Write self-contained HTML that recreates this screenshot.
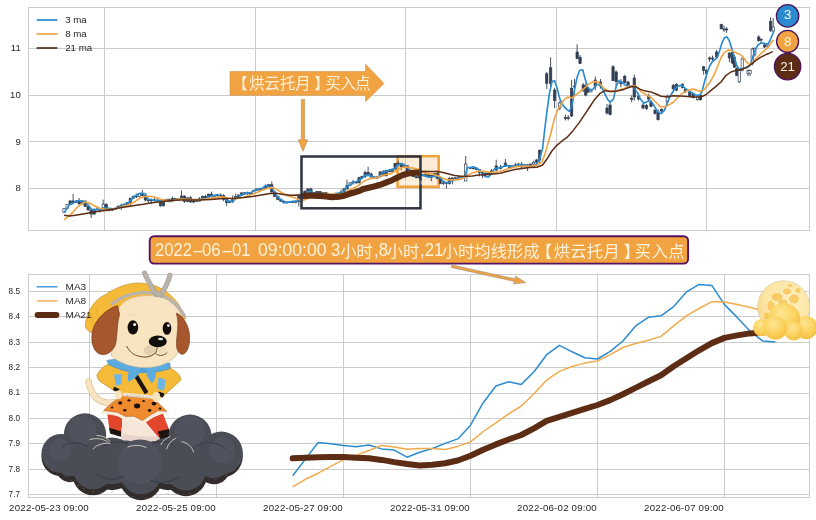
<!DOCTYPE html>
<html lang="zh">
<head>
<meta charset="utf-8">
<title>烘云托月 买入点</title>
<style>
html,body{margin:0;padding:0;background:#ffffff;}
body{width:816px;height:520px;overflow:hidden;font-family:"Liberation Sans", "Noto Sans CJK SC", sans-serif;}
#chart{position:absolute;left:0;top:0;width:816px;height:520px;will-change:transform;}
#note{position:absolute;left:0;top:0;width:816px;height:520px;color:#fdf1da;white-space:pre;}
#note span{position:absolute;display:block;line-height:1;white-space:pre;}
</style>
</head>
<body>
<div id="chart">
<svg width="816" height="520" viewBox="0 0 816 520" style="display:block;font-family:'Liberation Sans', 'Noto Sans CJK SC', sans-serif">
<rect width="816" height="520" fill="#ffffff"/>
<g id="top-axes">
<g stroke="#cccccc" stroke-width="1" fill="none" >
<line x1="28.5" x2="809.5" y1="188.5" y2="188.5"/>
<line x1="28.5" x2="809.5" y1="141.5" y2="141.5"/>
<line x1="28.5" x2="809.5" y1="95.5" y2="95.5"/>
<line x1="28.5" x2="809.5" y1="48.5" y2="48.5"/>
<line x1="104.5" x2="104.5" y1="7.5" y2="230.5"/>
<line x1="255.5" x2="255.5" y1="7.5" y2="230.5"/>
<line x1="405.5" x2="405.5" y1="7.5" y2="230.5"/>
<line x1="556.5" x2="556.5" y1="7.5" y2="230.5"/>
<line x1="706.5" x2="706.5" y1="7.5" y2="230.5"/>
<rect x="28.5" y="7.5" width="781.0" height="223.0"/>
</g>
<rect x="397.5" y="156.2" width="41.2" height="30.6" fill="#f6a94a" fill-opacity="0.22" stroke="#f0a340" stroke-width="2.6"/>
<g id="candles" stroke="#323e52">
<line x1="64.1" x2="64.1" y1="208.1" y2="212.8" stroke-width="0.9"/>
<rect x="62.9" y="208.7" width="2.3" height="3.9" stroke-width="0.7" fill="#ffffff"/>
<line x1="67.1" x2="67.1" y1="204" y2="208.7" stroke-width="0.9"/>
<rect x="66" y="204.3" width="2.3" height="4.3" stroke-width="0.7" fill="#ffffff"/>
<line x1="70.1" x2="70.1" y1="200.1" y2="204.9" stroke-width="0.9"/>
<rect x="69" y="201" width="2.3" height="3.3" stroke-width="0.7" fill="#323e52"/>
<line x1="73.1" x2="73.1" y1="194" y2="204.1" stroke-width="0.9"/>
<rect x="72" y="201" width="2.3" height="1.3" stroke-width="0.7" fill="#323e52"/>
<line x1="76.1" x2="76.1" y1="200.7" y2="203" stroke-width="0.9"/>
<rect x="75" y="201.1" width="2.3" height="1.1" stroke-width="0.7" fill="#323e52"/>
<line x1="79.1" x2="79.1" y1="198" y2="204.8" stroke-width="0.9"/>
<rect x="78" y="201.1" width="2.3" height="2.7" stroke-width="0.7" fill="#323e52"/>
<line x1="82.2" x2="82.2" y1="199.9" y2="204.4" stroke-width="0.9"/>
<rect x="81" y="201" width="2.3" height="2.8" stroke-width="0.7" fill="#323e52"/>
<line x1="85.2" x2="85.2" y1="200.7" y2="207.1" stroke-width="0.9"/>
<rect x="84" y="201" width="2.3" height="5.3" stroke-width="0.7" fill="#323e52"/>
<line x1="88.2" x2="88.2" y1="205" y2="210.6" stroke-width="0.9"/>
<rect x="87" y="206.3" width="2.3" height="3.6" stroke-width="0.7" fill="#323e52"/>
<line x1="91.2" x2="91.2" y1="209.8" y2="218" stroke-width="0.9"/>
<rect x="90" y="209.9" width="2.3" height="4.2" stroke-width="0.7" fill="#323e52"/>
<line x1="94.2" x2="94.2" y1="208.3" y2="214.7" stroke-width="0.9"/>
<rect x="93" y="209.7" width="2.3" height="4.3" stroke-width="0.7" fill="#323e52"/>
<line x1="97.2" x2="97.2" y1="206.9" y2="210.3" stroke-width="0.9"/>
<rect x="96.1" y="209" width="2.3" height="0.7" stroke-width="0.7" fill="#323e52"/>
<line x1="100.2" x2="100.2" y1="208.3" y2="212.5" stroke-width="0.9"/>
<rect x="99.1" y="209" width="2.3" height="1.4" stroke-width="0.7" fill="#323e52"/>
<line x1="103.2" x2="103.2" y1="199.6" y2="211.5" stroke-width="0.9"/>
<rect x="102.1" y="204.2" width="2.3" height="6.2" stroke-width="0.7" fill="#ffffff"/>
<line x1="106.2" x2="106.2" y1="203.5" y2="211.3" stroke-width="0.9"/>
<rect x="105.1" y="204.2" width="2.3" height="6.6" stroke-width="0.7" fill="#323e52"/>
<line x1="109.2" x2="109.2" y1="208.5" y2="211.3" stroke-width="0.9"/>
<rect x="108.1" y="209.5" width="2.3" height="1.2" stroke-width="0.7" fill="#323e52"/>
<line x1="112.3" x2="112.3" y1="208.8" y2="211.1" stroke-width="0.9"/>
<rect x="111.1" y="209.5" width="2.3" height="0.7" stroke-width="0.7" fill="#323e52"/>
<line x1="115.3" x2="115.3" y1="207.8" y2="210.2" stroke-width="0.9"/>
<rect x="114.1" y="208.2" width="2.3" height="1.3" stroke-width="0.7" fill="#323e52"/>
<line x1="118.3" x2="118.3" y1="205.9" y2="209.1" stroke-width="0.9"/>
<rect x="117.1" y="206" width="2.3" height="2.2" stroke-width="0.7" fill="#323e52"/>
<line x1="121.3" x2="121.3" y1="203.6" y2="209.9" stroke-width="0.9"/>
<rect x="120.1" y="205.2" width="2.3" height="0.8" stroke-width="0.7" fill="#323e52"/>
<line x1="124.3" x2="124.3" y1="203.8" y2="206.7" stroke-width="0.9"/>
<rect x="123.1" y="205.2" width="2.3" height="0.7" stroke-width="0.7" fill="#323e52"/>
<line x1="127.3" x2="127.3" y1="202" y2="205.3" stroke-width="0.9"/>
<rect x="126.2" y="202.4" width="2.3" height="2.8" stroke-width="0.7" fill="#323e52"/>
<line x1="130.3" x2="130.3" y1="198.2" y2="206.4" stroke-width="0.9"/>
<rect x="129.2" y="198.2" width="2.3" height="4.2" stroke-width="0.7" fill="#323e52"/>
<line x1="133.3" x2="133.3" y1="195.7" y2="198.8" stroke-width="0.9"/>
<rect x="132.2" y="196.2" width="2.3" height="2" stroke-width="0.7" fill="#323e52"/>
<line x1="136.3" x2="136.3" y1="193.4" y2="198.1" stroke-width="0.9"/>
<rect x="135.2" y="196.2" width="2.3" height="0.7" stroke-width="0.7" fill="#323e52"/>
<line x1="139.3" x2="139.3" y1="193.3" y2="197.2" stroke-width="0.9"/>
<rect x="138.2" y="193.8" width="2.3" height="2.7" stroke-width="0.7" fill="#ffffff"/>
<line x1="142.4" x2="142.4" y1="189.8" y2="196.3" stroke-width="0.9"/>
<rect x="141.2" y="193.8" width="2.3" height="1.7" stroke-width="0.7" fill="#323e52"/>
<line x1="145.4" x2="145.4" y1="194.4" y2="201.3" stroke-width="0.9"/>
<rect x="144.2" y="195.5" width="2.3" height="4.5" stroke-width="0.7" fill="#323e52"/>
<line x1="148.4" x2="148.4" y1="198.4" y2="202.7" stroke-width="0.9"/>
<rect x="147.2" y="200" width="2.3" height="0.8" stroke-width="0.7" fill="#323e52"/>
<line x1="151.4" x2="151.4" y1="198.7" y2="203.8" stroke-width="0.9"/>
<rect x="150.2" y="199.9" width="2.3" height="0.9" stroke-width="0.7" fill="#323e52"/>
<line x1="154.4" x2="154.4" y1="197" y2="201.6" stroke-width="0.9"/>
<rect x="153.2" y="199.9" width="2.3" height="0.7" stroke-width="0.7" fill="#323e52"/>
<line x1="157.4" x2="157.4" y1="200" y2="202.5" stroke-width="0.9"/>
<rect x="156.3" y="200.1" width="2.3" height="0.7" stroke-width="0.7" fill="#323e52"/>
<line x1="160.4" x2="160.4" y1="199.2" y2="206.8" stroke-width="0.9"/>
<rect x="159.3" y="200.5" width="2.3" height="5.3" stroke-width="0.7" fill="#323e52"/>
<line x1="163.4" x2="163.4" y1="199.7" y2="206.5" stroke-width="0.9"/>
<rect x="162.3" y="200" width="2.3" height="5.8" stroke-width="0.7" fill="#323e52"/>
<line x1="166.4" x2="166.4" y1="199" y2="200.1" stroke-width="0.9"/>
<rect x="165.3" y="199.2" width="2.3" height="0.8" stroke-width="0.7" fill="#323e52"/>
<line x1="169.4" x2="169.4" y1="199.2" y2="201.7" stroke-width="0.9"/>
<rect x="168.3" y="199.2" width="2.3" height="1.2" stroke-width="0.7" fill="#323e52"/>
<line x1="172.5" x2="172.5" y1="196.6" y2="201.5" stroke-width="0.9"/>
<rect x="171.3" y="198.3" width="2.3" height="2.1" stroke-width="0.7" fill="#323e52"/>
<line x1="175.5" x2="175.5" y1="198" y2="199.6" stroke-width="0.9"/>
<rect x="174.3" y="198.3" width="2.3" height="0.8" stroke-width="0.7" fill="#323e52"/>
<line x1="178.5" x2="178.5" y1="198.5" y2="201.2" stroke-width="0.9"/>
<rect x="177.3" y="199.1" width="2.3" height="0.7" stroke-width="0.7" fill="#323e52"/>
<line x1="181.5" x2="181.5" y1="190.6" y2="199.5" stroke-width="0.9"/>
<rect x="180.3" y="196" width="2.3" height="3.3" stroke-width="0.7" fill="#323e52"/>
<line x1="184.5" x2="184.5" y1="195.6" y2="202.8" stroke-width="0.9"/>
<rect x="183.3" y="196" width="2.3" height="5.4" stroke-width="0.7" fill="#323e52"/>
<line x1="187.5" x2="187.5" y1="197.6" y2="202.2" stroke-width="0.9"/>
<rect x="186.4" y="197.8" width="2.3" height="3.6" stroke-width="0.7" fill="#323e52"/>
<line x1="190.5" x2="190.5" y1="196" y2="202.7" stroke-width="0.9"/>
<rect x="189.4" y="197.8" width="2.3" height="4.2" stroke-width="0.7" fill="#323e52"/>
<line x1="193.5" x2="193.5" y1="198.7" y2="203.2" stroke-width="0.9"/>
<rect x="192.4" y="200.9" width="2.3" height="1.1" stroke-width="0.7" fill="#323e52"/>
<line x1="196.5" x2="196.5" y1="200.8" y2="201.6" stroke-width="0.9"/>
<rect x="195.4" y="200.9" width="2.3" height="0.7" stroke-width="0.7" fill="#323e52"/>
<line x1="199.5" x2="199.5" y1="197.1" y2="201.4" stroke-width="0.9"/>
<rect x="198.4" y="198.8" width="2.3" height="2.3" stroke-width="0.7" fill="#323e52"/>
<line x1="202.6" x2="202.6" y1="195.7" y2="199.9" stroke-width="0.9"/>
<rect x="201.4" y="196.3" width="2.3" height="2.5" stroke-width="0.7" fill="#323e52"/>
<line x1="205.6" x2="205.6" y1="194.9" y2="198.1" stroke-width="0.9"/>
<rect x="204.4" y="196.3" width="2.3" height="1.7" stroke-width="0.7" fill="#323e52"/>
<line x1="208.6" x2="208.6" y1="193.7" y2="199.4" stroke-width="0.9"/>
<rect x="207.4" y="194.2" width="2.3" height="3.8" stroke-width="0.7" fill="#323e52"/>
<line x1="211.6" x2="211.6" y1="191.6" y2="195.8" stroke-width="0.9"/>
<rect x="210.4" y="194.2" width="2.3" height="1.2" stroke-width="0.7" fill="#323e52"/>
<line x1="214.6" x2="214.6" y1="195.2" y2="198.6" stroke-width="0.9"/>
<rect x="213.4" y="195.5" width="2.3" height="0.7" stroke-width="0.7" fill="#323e52"/>
<line x1="217.6" x2="217.6" y1="194.2" y2="196.6" stroke-width="0.9"/>
<rect x="216.5" y="195.1" width="2.3" height="0.7" stroke-width="0.7" fill="#ffffff"/>
<line x1="220.6" x2="220.6" y1="193.4" y2="196.3" stroke-width="0.9"/>
<rect x="219.5" y="195.1" width="2.3" height="0.7" stroke-width="0.7" fill="#323e52"/>
<line x1="223.6" x2="223.6" y1="194.2" y2="201.2" stroke-width="0.9"/>
<rect x="222.5" y="195.7" width="2.3" height="3.8" stroke-width="0.7" fill="#323e52"/>
<line x1="226.6" x2="226.6" y1="199.1" y2="205.8" stroke-width="0.9"/>
<rect x="225.5" y="199.4" width="2.3" height="3" stroke-width="0.7" fill="#323e52"/>
<line x1="229.6" x2="229.6" y1="200.6" y2="203.1" stroke-width="0.9"/>
<rect x="228.5" y="201.8" width="2.3" height="0.7" stroke-width="0.7" fill="#323e52"/>
<line x1="232.7" x2="232.7" y1="195.4" y2="202.9" stroke-width="0.9"/>
<rect x="231.5" y="198.6" width="2.3" height="3.2" stroke-width="0.7" fill="#323e52"/>
<line x1="235.7" x2="235.7" y1="193.7" y2="199.9" stroke-width="0.9"/>
<rect x="234.5" y="196.6" width="2.3" height="2" stroke-width="0.7" fill="#ffffff"/>
<line x1="238.7" x2="238.7" y1="194.7" y2="196.8" stroke-width="0.9"/>
<rect x="237.5" y="195" width="2.3" height="1.6" stroke-width="0.7" fill="#323e52"/>
<line x1="241.7" x2="241.7" y1="192.5" y2="195.8" stroke-width="0.9"/>
<rect x="240.5" y="192.9" width="2.3" height="2.2" stroke-width="0.7" fill="#323e52"/>
<line x1="244.7" x2="244.7" y1="192.4" y2="195.1" stroke-width="0.9"/>
<rect x="243.5" y="192.8" width="2.3" height="0.7" stroke-width="0.7" fill="#323e52"/>
<line x1="247.7" x2="247.7" y1="191.5" y2="195" stroke-width="0.9"/>
<rect x="246.6" y="192.8" width="2.3" height="0.7" stroke-width="0.7" fill="#323e52"/>
<line x1="250.7" x2="250.7" y1="192.6" y2="195.2" stroke-width="0.9"/>
<rect x="249.6" y="193.5" width="2.3" height="0.7" stroke-width="0.7" fill="#323e52"/>
<line x1="253.7" x2="253.7" y1="190.3" y2="194.2" stroke-width="0.9"/>
<rect x="252.6" y="190.3" width="2.3" height="3.3" stroke-width="0.7" fill="#ffffff"/>
<line x1="256.7" x2="256.7" y1="188.7" y2="190.6" stroke-width="0.9"/>
<rect x="255.6" y="189" width="2.3" height="1.3" stroke-width="0.7" fill="#323e52"/>
<line x1="259.8" x2="259.8" y1="188.3" y2="192.2" stroke-width="0.9"/>
<rect x="258.6" y="189" width="2.3" height="0.7" stroke-width="0.7" fill="#323e52"/>
<line x1="262.8" x2="262.8" y1="188" y2="190.2" stroke-width="0.9"/>
<rect x="261.6" y="188.1" width="2.3" height="1.4" stroke-width="0.7" fill="#ffffff"/>
<line x1="265.8" x2="265.8" y1="186" y2="189.2" stroke-width="0.9"/>
<rect x="264.6" y="186.5" width="2.3" height="1.6" stroke-width="0.7" fill="#323e52"/>
<line x1="268.8" x2="268.8" y1="184.7" y2="187.5" stroke-width="0.9"/>
<rect x="267.6" y="184.7" width="2.3" height="1.8" stroke-width="0.7" fill="#323e52"/>
<line x1="271.8" x2="271.8" y1="181.5" y2="192.6" stroke-width="0.9"/>
<rect x="270.6" y="184.7" width="2.3" height="7.3" stroke-width="0.7" fill="#323e52"/>
<line x1="274.8" x2="274.8" y1="191.2" y2="196.6" stroke-width="0.9"/>
<rect x="273.6" y="192" width="2.3" height="4.4" stroke-width="0.7" fill="#323e52"/>
<line x1="277.8" x2="277.8" y1="196" y2="200.3" stroke-width="0.9"/>
<rect x="276.7" y="196.4" width="2.3" height="3.1" stroke-width="0.7" fill="#323e52"/>
<line x1="280.8" x2="280.8" y1="199.3" y2="202" stroke-width="0.9"/>
<rect x="279.7" y="199.5" width="2.3" height="1.7" stroke-width="0.7" fill="#323e52"/>
<line x1="283.8" x2="283.8" y1="200.4" y2="203" stroke-width="0.9"/>
<rect x="282.7" y="201.2" width="2.3" height="1.6" stroke-width="0.7" fill="#323e52"/>
<line x1="286.8" x2="286.8" y1="201.9" y2="203.7" stroke-width="0.9"/>
<rect x="285.7" y="201.9" width="2.3" height="0.9" stroke-width="0.7" fill="#323e52"/>
<line x1="289.8" x2="289.8" y1="201" y2="202.6" stroke-width="0.9"/>
<rect x="288.7" y="201.9" width="2.3" height="0.7" stroke-width="0.7" fill="#323e52"/>
<line x1="292.9" x2="292.9" y1="201.3" y2="202.8" stroke-width="0.9"/>
<rect x="291.7" y="201.4" width="2.3" height="1.2" stroke-width="0.7" fill="#323e52"/>
<line x1="295.9" x2="295.9" y1="200.4" y2="203.5" stroke-width="0.9"/>
<rect x="294.7" y="201.4" width="2.3" height="0.7" stroke-width="0.7" fill="#323e52"/>
<line x1="298.9" x2="298.9" y1="193.8" y2="206.5" stroke-width="0.9"/>
<rect x="297.7" y="196.6" width="2.3" height="5.2" stroke-width="0.7" fill="#323e52"/>
<line x1="301.9" x2="301.9" y1="195.4" y2="200.3" stroke-width="0.9"/>
<rect x="300.7" y="196.6" width="2.3" height="2.4" stroke-width="0.7" fill="#323e52"/>
<line x1="304.9" x2="304.9" y1="190.8" y2="200" stroke-width="0.9"/>
<rect x="303.8" y="191" width="2.3" height="8" stroke-width="0.7" fill="#323e52"/>
<line x1="307.9" x2="307.9" y1="188.3" y2="194.8" stroke-width="0.9"/>
<rect x="306.8" y="189" width="2.3" height="2" stroke-width="0.7" fill="#323e52"/>
<line x1="310.9" x2="310.9" y1="187.7" y2="196.7" stroke-width="0.9"/>
<rect x="309.8" y="189" width="2.3" height="6.3" stroke-width="0.7" fill="#323e52"/>
<line x1="313.9" x2="313.9" y1="192.8" y2="195.3" stroke-width="0.9"/>
<rect x="312.8" y="192.8" width="2.3" height="2.4" stroke-width="0.7" fill="#323e52"/>
<line x1="316.9" x2="316.9" y1="191.1" y2="194.5" stroke-width="0.9"/>
<rect x="315.8" y="191.5" width="2.3" height="1.4" stroke-width="0.7" fill="#323e52"/>
<line x1="319.9" x2="319.9" y1="191.4" y2="195.6" stroke-width="0.9"/>
<rect x="318.8" y="191.5" width="2.3" height="3.4" stroke-width="0.7" fill="#323e52"/>
<line x1="323" x2="323" y1="192.7" y2="196.5" stroke-width="0.9"/>
<rect x="321.8" y="192.7" width="2.3" height="2.2" stroke-width="0.7" fill="#323e52"/>
<line x1="326" x2="326" y1="192.2" y2="196" stroke-width="0.9"/>
<rect x="324.8" y="192.7" width="2.3" height="3" stroke-width="0.7" fill="#323e52"/>
<line x1="329" x2="329" y1="193.5" y2="196.1" stroke-width="0.9"/>
<rect x="327.8" y="194.8" width="2.3" height="0.9" stroke-width="0.7" fill="#323e52"/>
<line x1="332" x2="332" y1="193.8" y2="195.7" stroke-width="0.9"/>
<rect x="330.8" y="194.2" width="2.3" height="0.7" stroke-width="0.7" fill="#323e52"/>
<line x1="335" x2="335" y1="192.6" y2="199.5" stroke-width="0.9"/>
<rect x="333.9" y="194.2" width="2.3" height="1.4" stroke-width="0.7" fill="#323e52"/>
<line x1="338" x2="338" y1="194.4" y2="200" stroke-width="0.9"/>
<rect x="336.9" y="195.6" width="2.3" height="1.8" stroke-width="0.7" fill="#323e52"/>
<line x1="341" x2="341" y1="189.6" y2="197.8" stroke-width="0.9"/>
<rect x="339.9" y="192.1" width="2.3" height="5.3" stroke-width="0.7" fill="#323e52"/>
<line x1="344" x2="344" y1="187.7" y2="193.6" stroke-width="0.9"/>
<rect x="342.9" y="189" width="2.3" height="3.1" stroke-width="0.7" fill="#323e52"/>
<line x1="347" x2="347" y1="179.7" y2="189.3" stroke-width="0.9"/>
<rect x="345.9" y="185.5" width="2.3" height="3.5" stroke-width="0.7" fill="#323e52"/>
<line x1="350" x2="350" y1="182.3" y2="186.3" stroke-width="0.9"/>
<rect x="348.9" y="182.9" width="2.3" height="2.6" stroke-width="0.7" fill="#ffffff"/>
<line x1="353.1" x2="353.1" y1="179.8" y2="184.7" stroke-width="0.9"/>
<rect x="351.9" y="181.9" width="2.3" height="1" stroke-width="0.7" fill="#323e52"/>
<line x1="356.1" x2="356.1" y1="181.1" y2="183.7" stroke-width="0.9"/>
<rect x="354.9" y="181.9" width="2.3" height="1" stroke-width="0.7" fill="#323e52"/>
<line x1="359.1" x2="359.1" y1="176.8" y2="182.9" stroke-width="0.9"/>
<rect x="357.9" y="177.7" width="2.3" height="5.2" stroke-width="0.7" fill="#323e52"/>
<line x1="362.1" x2="362.1" y1="175.6" y2="178" stroke-width="0.9"/>
<rect x="360.9" y="176.4" width="2.3" height="1.3" stroke-width="0.7" fill="#323e52"/>
<line x1="365.1" x2="365.1" y1="170.5" y2="177.9" stroke-width="0.9"/>
<rect x="364" y="172.5" width="2.3" height="3.9" stroke-width="0.7" fill="#323e52"/>
<line x1="368.1" x2="368.1" y1="166.6" y2="174.6" stroke-width="0.9"/>
<rect x="367" y="172.5" width="2.3" height="1.6" stroke-width="0.7" fill="#323e52"/>
<line x1="371.1" x2="371.1" y1="172.5" y2="177.1" stroke-width="0.9"/>
<rect x="370" y="174.1" width="2.3" height="3" stroke-width="0.7" fill="#323e52"/>
<line x1="374.1" x2="374.1" y1="176" y2="178.2" stroke-width="0.9"/>
<rect x="373" y="177" width="2.3" height="1" stroke-width="0.7" fill="#323e52"/>
<line x1="377.1" x2="377.1" y1="176.7" y2="178.5" stroke-width="0.9"/>
<rect x="376" y="176.8" width="2.3" height="1.2" stroke-width="0.7" fill="#323e52"/>
<line x1="380.1" x2="380.1" y1="171.5" y2="177.4" stroke-width="0.9"/>
<rect x="379" y="171.9" width="2.3" height="4.9" stroke-width="0.7" fill="#323e52"/>
<line x1="383.2" x2="383.2" y1="169.9" y2="176.3" stroke-width="0.9"/>
<rect x="382" y="171.9" width="2.3" height="3.8" stroke-width="0.7" fill="#323e52"/>
<line x1="386.2" x2="386.2" y1="170.1" y2="176.2" stroke-width="0.9"/>
<rect x="385" y="170.4" width="2.3" height="5.4" stroke-width="0.7" fill="#323e52"/>
<line x1="389.2" x2="389.2" y1="169.2" y2="172.6" stroke-width="0.9"/>
<rect x="388" y="170.4" width="2.3" height="1.2" stroke-width="0.7" fill="#323e52"/>
<line x1="392.2" x2="392.2" y1="168.9" y2="171.9" stroke-width="0.9"/>
<rect x="391" y="169.1" width="2.3" height="2.5" stroke-width="0.7" fill="#323e52"/>
<line x1="395.2" x2="395.2" y1="163.3" y2="169.6" stroke-width="0.9"/>
<rect x="394" y="163.3" width="2.3" height="5.8" stroke-width="0.7" fill="#323e52"/>
<line x1="398.2" x2="398.2" y1="160.6" y2="164.8" stroke-width="0.9"/>
<rect x="397.1" y="163.2" width="2.3" height="0.7" stroke-width="0.7" fill="#ffffff"/>
<line x1="401.2" x2="401.2" y1="162.9" y2="170.5" stroke-width="0.9"/>
<rect x="400.1" y="163.2" width="2.3" height="3.5" stroke-width="0.7" fill="#323e52"/>
<line x1="404.2" x2="404.2" y1="163.9" y2="167.6" stroke-width="0.9"/>
<rect x="403.1" y="165.7" width="2.3" height="1" stroke-width="0.7" fill="#323e52"/>
<line x1="407.2" x2="407.2" y1="165.3" y2="172.3" stroke-width="0.9"/>
<rect x="406.1" y="165.7" width="2.3" height="4.9" stroke-width="0.7" fill="#323e52"/>
<line x1="410.2" x2="410.2" y1="169.5" y2="174" stroke-width="0.9"/>
<rect x="409.1" y="170.6" width="2.3" height="1.9" stroke-width="0.7" fill="#323e52"/>
<line x1="413.3" x2="413.3" y1="172" y2="177" stroke-width="0.9"/>
<rect x="412.1" y="172.5" width="2.3" height="4.2" stroke-width="0.7" fill="#323e52"/>
<line x1="416.3" x2="416.3" y1="176.1" y2="178.3" stroke-width="0.9"/>
<rect x="415.1" y="176.7" width="2.3" height="1" stroke-width="0.7" fill="#323e52"/>
<line x1="419.3" x2="419.3" y1="174.8" y2="179.1" stroke-width="0.9"/>
<rect x="418.1" y="175.1" width="2.3" height="2.6" stroke-width="0.7" fill="#323e52"/>
<line x1="422.3" x2="422.3" y1="174.1" y2="175.8" stroke-width="0.9"/>
<rect x="421.1" y="175.1" width="2.3" height="0.7" stroke-width="0.7" fill="#323e52"/>
<line x1="425.3" x2="425.3" y1="173" y2="176.4" stroke-width="0.9"/>
<rect x="424.1" y="174.8" width="2.3" height="0.8" stroke-width="0.7" fill="#323e52"/>
<line x1="428.3" x2="428.3" y1="174.7" y2="177.4" stroke-width="0.9"/>
<rect x="427.2" y="174.8" width="2.3" height="2.3" stroke-width="0.7" fill="#323e52"/>
<line x1="431.3" x2="431.3" y1="174.9" y2="181.1" stroke-width="0.9"/>
<rect x="430.2" y="175.3" width="2.3" height="1.9" stroke-width="0.7" fill="#323e52"/>
<line x1="434.3" x2="434.3" y1="173.1" y2="175.9" stroke-width="0.9"/>
<rect x="433.2" y="173.4" width="2.3" height="1.9" stroke-width="0.7" fill="#323e52"/>
<line x1="437.3" x2="437.3" y1="170.6" y2="179.2" stroke-width="0.9"/>
<rect x="436.2" y="173.4" width="2.3" height="5.1" stroke-width="0.7" fill="#323e52"/>
<line x1="440.4" x2="440.4" y1="178.4" y2="184.2" stroke-width="0.9"/>
<rect x="439.2" y="178.5" width="2.3" height="4.8" stroke-width="0.7" fill="#323e52"/>
<line x1="443.4" x2="443.4" y1="182.1" y2="185" stroke-width="0.9"/>
<rect x="442.2" y="182.8" width="2.3" height="0.7" stroke-width="0.7" fill="#323e52"/>
<line x1="446.4" x2="446.4" y1="182.2" y2="188.6" stroke-width="0.9"/>
<rect x="445.2" y="182.8" width="2.3" height="0.7" stroke-width="0.7" fill="#323e52"/>
<line x1="449.4" x2="449.4" y1="177" y2="184.6" stroke-width="0.9"/>
<rect x="448.2" y="178.5" width="2.3" height="4.9" stroke-width="0.7" fill="#323e52"/>
<line x1="452.4" x2="452.4" y1="177" y2="184.4" stroke-width="0.9"/>
<rect x="451.2" y="178" width="2.3" height="0.7" stroke-width="0.7" fill="#323e52"/>
<line x1="455.4" x2="455.4" y1="177.1" y2="178.6" stroke-width="0.9"/>
<rect x="454.2" y="177.8" width="2.3" height="0.7" stroke-width="0.7" fill="#323e52"/>
<line x1="458.4" x2="458.4" y1="175.7" y2="180.5" stroke-width="0.9"/>
<rect x="457.3" y="177.8" width="2.3" height="0.7" stroke-width="0.7" fill="#323e52"/>
<line x1="461.4" x2="461.4" y1="176.7" y2="179.7" stroke-width="0.9"/>
<rect x="460.3" y="177.8" width="2.3" height="0.7" stroke-width="0.7" fill="#323e52"/>
<line x1="470.4" x2="470.4" y1="167.5" y2="168.6" stroke-width="0.9"/>
<rect x="469.3" y="167.8" width="2.3" height="0.7" stroke-width="0.7" fill="#323e52"/>
<line x1="473.5" x2="473.5" y1="167.8" y2="169.2" stroke-width="0.9"/>
<rect x="472.3" y="168.1" width="2.3" height="0.7" stroke-width="0.7" fill="#323e52"/>
<line x1="476.5" x2="476.5" y1="167.3" y2="170.2" stroke-width="0.9"/>
<rect x="475.3" y="168.1" width="2.3" height="1.5" stroke-width="0.7" fill="#323e52"/>
<line x1="479.5" x2="479.5" y1="169" y2="176.4" stroke-width="0.9"/>
<rect x="478.3" y="169.6" width="2.3" height="3.1" stroke-width="0.7" fill="#323e52"/>
<line x1="482.5" x2="482.5" y1="171.4" y2="178.2" stroke-width="0.9"/>
<rect x="481.3" y="172.7" width="2.3" height="2.2" stroke-width="0.7" fill="#323e52"/>
<line x1="485.5" x2="485.5" y1="172.7" y2="175.9" stroke-width="0.9"/>
<rect x="484.4" y="173.1" width="2.3" height="1.8" stroke-width="0.7" fill="#323e52"/>
<line x1="488.5" x2="488.5" y1="172.5" y2="174.1" stroke-width="0.9"/>
<rect x="487.4" y="173.1" width="2.3" height="0.7" stroke-width="0.7" fill="#323e52"/>
<line x1="491.5" x2="491.5" y1="169.1" y2="174.5" stroke-width="0.9"/>
<rect x="490.4" y="170.8" width="2.3" height="2.9" stroke-width="0.7" fill="#323e52"/>
<line x1="500.5" x2="500.5" y1="164.9" y2="169.4" stroke-width="0.9"/>
<rect x="499.4" y="167.1" width="2.3" height="1.5" stroke-width="0.7" fill="#323e52"/>
<line x1="509.6" x2="509.6" y1="165.5" y2="168.1" stroke-width="0.9"/>
<rect x="508.4" y="165.6" width="2.3" height="2.1" stroke-width="0.7" fill="#323e52"/>
<line x1="512.6" x2="512.6" y1="165.3" y2="168" stroke-width="0.9"/>
<rect x="511.4" y="166" width="2.3" height="1.7" stroke-width="0.7" fill="#323e52"/>
<line x1="515.6" x2="515.6" y1="162.8" y2="166.3" stroke-width="0.9"/>
<rect x="514.4" y="164.9" width="2.3" height="1.1" stroke-width="0.7" fill="#323e52"/>
<line x1="518.6" x2="518.6" y1="162.8" y2="166.2" stroke-width="0.9"/>
<rect x="517.5" y="164.1" width="2.3" height="0.9" stroke-width="0.7" fill="#323e52"/>
<line x1="521.6" x2="521.6" y1="162.2" y2="167.8" stroke-width="0.9"/>
<rect x="520.5" y="164.1" width="2.3" height="2.9" stroke-width="0.7" fill="#323e52"/>
<line x1="524.6" x2="524.6" y1="164.1" y2="166.9" stroke-width="0.9"/>
<rect x="523.5" y="164.9" width="2.3" height="2" stroke-width="0.7" fill="#323e52"/>
<line x1="527.6" x2="527.6" y1="164.1" y2="171" stroke-width="0.9"/>
<rect x="526.5" y="164.9" width="2.3" height="2.6" stroke-width="0.7" fill="#323e52"/>
<line x1="530.6" x2="530.6" y1="163.6" y2="168" stroke-width="0.9"/>
<rect x="529.5" y="164.1" width="2.3" height="3.4" stroke-width="0.7" fill="#323e52"/>
<line x1="533.7" x2="533.7" y1="160.7" y2="164.9" stroke-width="0.9"/>
<rect x="532.5" y="162.2" width="2.3" height="1.8" stroke-width="0.7" fill="#ffffff"/>
<line x1="536.7" x2="536.7" y1="158.8" y2="163.1" stroke-width="0.9"/>
<rect x="535.5" y="160" width="2.3" height="2.2" stroke-width="0.7" fill="#323e52"/>
<line x1="539.7" x2="539.7" y1="149.5" y2="164" stroke-width="0.9"/>
<rect x="538.5" y="150.3" width="2.3" height="9.7" stroke-width="0.7" fill="#323e52"/>
<line x1="587.8" x2="587.8" y1="87.6" y2="93.2" stroke-width="0.9"/>
<rect x="586.7" y="88.1" width="2.3" height="3.9" stroke-width="0.7" fill="#323e52"/>
<line x1="590.9" x2="590.9" y1="88.5" y2="92" stroke-width="0.9"/>
<rect x="589.7" y="90.4" width="2.3" height="1.6" stroke-width="0.7" fill="#ffffff"/>
<line x1="620.9" x2="620.9" y1="79" y2="87.2" stroke-width="0.9"/>
<rect x="619.8" y="81.7" width="2.3" height="2.1" stroke-width="0.7" fill="#323e52"/>
<line x1="651" x2="651" y1="101.4" y2="106.7" stroke-width="0.9"/>
<rect x="649.9" y="102.6" width="2.3" height="3.8" stroke-width="0.7" fill="#323e52"/>
<line x1="693.2" x2="693.2" y1="92.9" y2="98.6" stroke-width="0.9"/>
<rect x="692" y="93.5" width="2.3" height="4.1" stroke-width="0.7" fill="#323e52"/>
<line x1="465.7" x2="465.7" y1="156" y2="181" stroke-width="0.9"/>
<rect x="464.6" y="164" width="2.3" height="17" stroke-width="0.7" fill="#ffffff"/>
<line x1="496.2" x2="496.2" y1="159.7" y2="171.5" stroke-width="0.9"/>
<rect x="495.1" y="166" width="2.3" height="4" stroke-width="0.7" fill="#323e52"/>
<line x1="505.4" x2="505.4" y1="159" y2="167" stroke-width="0.9"/>
<rect x="504.2" y="163" width="2.3" height="3.5" stroke-width="0.7" fill="#323e52"/>
<line x1="546.8" x2="546.8" y1="72" y2="89" stroke-width="0.9"/>
<rect x="545.6" y="73.8" width="2.3" height="9.5" stroke-width="0.7" fill="#323e52"/>
<line x1="550.6" x2="550.6" y1="57.3" y2="85.9" stroke-width="0.9"/>
<rect x="549.5" y="67.7" width="2.3" height="15.6" stroke-width="0.7" fill="#323e52"/>
<line x1="554.6" x2="554.6" y1="88" y2="108" stroke-width="0.9"/>
<rect x="553.5" y="90" width="2.3" height="10.6" stroke-width="0.7" fill="#323e52"/>
<line x1="559.8" x2="559.8" y1="101" y2="110" stroke-width="0.9"/>
<rect x="558.6" y="103" width="2.3" height="5" stroke-width="0.7" fill="#ffffff"/>
<line x1="565.4" x2="565.4" y1="114.5" y2="120.5" stroke-width="0.9"/>
<rect x="564.2" y="117.6" width="2.3" height="0.8" stroke-width="0.7" fill="#323e52"/>
<line x1="568.2" x2="568.2" y1="115" y2="120.5" stroke-width="0.9"/>
<rect x="567.1" y="117.6" width="2.3" height="0.8" stroke-width="0.7" fill="#323e52"/>
<line x1="571.6" x2="571.6" y1="80" y2="117" stroke-width="0.9"/>
<rect x="570.5" y="88.5" width="2.3" height="27.5" stroke-width="0.7" fill="#323e52"/>
<line x1="574.5" x2="574.5" y1="79" y2="97" stroke-width="0.9"/>
<rect x="573.4" y="86" width="2.3" height="1" stroke-width="0.7" fill="#323e52"/>
<line x1="577.1" x2="577.1" y1="44.3" y2="59" stroke-width="0.9"/>
<rect x="576" y="52" width="2.3" height="6.7" stroke-width="0.7" fill="#323e52"/>
<line x1="580" x2="580" y1="55" y2="64" stroke-width="0.9"/>
<rect x="578.9" y="57.3" width="2.3" height="6.1" stroke-width="0.7" fill="#323e52"/>
<line x1="583.2" x2="583.2" y1="83" y2="92" stroke-width="0.9"/>
<rect x="582.1" y="85" width="2.3" height="5.2" stroke-width="0.7" fill="#323e52"/>
<line x1="585.8" x2="585.8" y1="83.3" y2="96.3" stroke-width="0.9"/>
<rect x="584.6" y="86" width="2.3" height="9" stroke-width="0.7" fill="#323e52"/>
<line x1="595.3" x2="595.3" y1="76.4" y2="90.2" stroke-width="0.9"/>
<rect x="594.1" y="80" width="2.3" height="6" stroke-width="0.7" fill="#323e52"/>
<line x1="600.5" x2="600.5" y1="79" y2="88.5" stroke-width="0.9"/>
<rect x="599.4" y="82" width="2.3" height="4" stroke-width="0.7" fill="#323e52"/>
<line x1="607" x2="607" y1="104" y2="114.5" stroke-width="0.9"/>
<rect x="605.9" y="108" width="2.3" height="5" stroke-width="0.7" fill="#323e52"/>
<line x1="610" x2="610" y1="103" y2="115.3" stroke-width="0.9"/>
<rect x="608.9" y="105" width="2.3" height="9.5" stroke-width="0.7" fill="#323e52"/>
<line x1="613" x2="613" y1="65" y2="81" stroke-width="0.9"/>
<rect x="611.9" y="66.8" width="2.3" height="13.9" stroke-width="0.7" fill="#323e52"/>
<line x1="616.1" x2="616.1" y1="70.3" y2="87.6" stroke-width="0.9"/>
<rect x="615" y="72" width="2.3" height="9.6" stroke-width="0.7" fill="#323e52"/>
<line x1="624.8" x2="624.8" y1="74.6" y2="83.3" stroke-width="0.9"/>
<rect x="623.6" y="76.4" width="2.3" height="6" stroke-width="0.7" fill="#323e52"/>
<line x1="628" x2="628" y1="80.7" y2="86.8" stroke-width="0.9"/>
<rect x="626.9" y="82" width="2.3" height="3" stroke-width="0.7" fill="#323e52"/>
<line x1="634.3" x2="634.3" y1="74.6" y2="100.6" stroke-width="0.9"/>
<rect x="633.1" y="78" width="2.3" height="19" stroke-width="0.7" fill="#323e52"/>
<line x1="631.7" x2="631.7" y1="95.4" y2="102.3" stroke-width="0.9"/>
<rect x="630.6" y="98.5" width="2.3" height="0.8" stroke-width="0.7" fill="#323e52"/>
<line x1="638.6" x2="638.6" y1="93.7" y2="100.6" stroke-width="0.9"/>
<rect x="637.5" y="96" width="2.3" height="3" stroke-width="0.7" fill="#323e52"/>
<line x1="643" x2="643" y1="103.2" y2="109.3" stroke-width="0.9"/>
<rect x="641.9" y="105" width="2.3" height="3" stroke-width="0.7" fill="#323e52"/>
<line x1="646.5" x2="646.5" y1="104" y2="110.1" stroke-width="0.9"/>
<rect x="645.4" y="105.5" width="2.3" height="3" stroke-width="0.7" fill="#323e52"/>
<line x1="648.7" x2="648.7" y1="93.7" y2="100.6" stroke-width="0.9"/>
<rect x="647.6" y="96" width="2.3" height="3" stroke-width="0.7" fill="#323e52"/>
<line x1="655" x2="655" y1="109.3" y2="114.5" stroke-width="0.9"/>
<rect x="653.9" y="110.1" width="2.3" height="3.5" stroke-width="0.7" fill="#323e52"/>
<line x1="658" x2="658" y1="109.3" y2="120.5" stroke-width="0.9"/>
<rect x="656.9" y="111.9" width="2.3" height="7.8" stroke-width="0.7" fill="#323e52"/>
<line x1="661.5" x2="661.5" y1="108.4" y2="111.9" stroke-width="0.9"/>
<rect x="660.4" y="109.5" width="2.3" height="1.5" stroke-width="0.7" fill="#323e52"/>
<line x1="667.2" x2="667.2" y1="94.5" y2="104.9" stroke-width="0.9"/>
<rect x="666.1" y="97" width="2.3" height="5" stroke-width="0.7" fill="#ffffff"/>
<line x1="673.3" x2="673.3" y1="84" y2="90" stroke-width="0.9"/>
<rect x="672.1" y="85.4" width="2.3" height="3.4" stroke-width="0.7" fill="#323e52"/>
<line x1="676.4" x2="676.4" y1="83.3" y2="91.1" stroke-width="0.9"/>
<rect x="675.2" y="84.2" width="2.3" height="6" stroke-width="0.7" fill="#323e52"/>
<line x1="682.5" x2="682.5" y1="83.5" y2="88.5" stroke-width="0.9"/>
<rect x="681.4" y="84.2" width="2.3" height="3.4" stroke-width="0.7" fill="#323e52"/>
<line x1="685.4" x2="685.4" y1="88.5" y2="92.8" stroke-width="0.9"/>
<rect x="684.2" y="89.4" width="2.3" height="2.5" stroke-width="0.7" fill="#323e52"/>
<line x1="689.7" x2="689.7" y1="91.1" y2="97.1" stroke-width="0.9"/>
<rect x="688.6" y="92.5" width="2.3" height="3.5" stroke-width="0.7" fill="#323e52"/>
<line x1="697.5" x2="697.5" y1="94.5" y2="100.6" stroke-width="0.9"/>
<rect x="696.4" y="95.4" width="2.3" height="4.3" stroke-width="0.7" fill="#ffffff"/>
<line x1="700.5" x2="700.5" y1="94.5" y2="100.6" stroke-width="0.9"/>
<rect x="699.4" y="95.4" width="2.3" height="4.3" stroke-width="0.7" fill="#323e52"/>
<line x1="703.6" x2="703.6" y1="66" y2="74.6" stroke-width="0.9"/>
<rect x="702.5" y="66.8" width="2.3" height="3.5" stroke-width="0.7" fill="#323e52"/>
<line x1="706.5" x2="706.5" y1="69.5" y2="74.6" stroke-width="0.9"/>
<rect x="705.4" y="70.3" width="2.3" height="3.5" stroke-width="0.7" fill="#323e52"/>
<line x1="709.5" x2="709.5" y1="56.5" y2="61.7" stroke-width="0.9"/>
<rect x="708.4" y="58" width="2.3" height="1" stroke-width="0.7" fill="#323e52"/>
<line x1="712.5" x2="712.5" y1="55.6" y2="61.7" stroke-width="0.9"/>
<rect x="711.4" y="58" width="2.3" height="1" stroke-width="0.7" fill="#323e52"/>
<line x1="716.6" x2="716.6" y1="50" y2="58.2" stroke-width="0.9"/>
<rect x="715.5" y="52" width="2.3" height="5" stroke-width="0.7" fill="#323e52"/>
<line x1="721.2" x2="721.2" y1="23.8" y2="29.5" stroke-width="0.9"/>
<rect x="720.1" y="24.6" width="2.3" height="4.1" stroke-width="0.7" fill="#323e52"/>
<line x1="724" x2="724" y1="25.4" y2="32" stroke-width="0.9"/>
<rect x="722.9" y="29" width="2.3" height="0.9" stroke-width="0.7" fill="#323e52"/>
<line x1="726.6" x2="726.6" y1="27" y2="32.8" stroke-width="0.9"/>
<rect x="725.5" y="29" width="2.3" height="0.9" stroke-width="0.7" fill="#323e52"/>
<line x1="729.4" x2="729.4" y1="52.4" y2="62.2" stroke-width="0.9"/>
<rect x="728.2" y="53" width="2.3" height="5" stroke-width="0.7" fill="#323e52"/>
<line x1="732.4" x2="732.4" y1="50" y2="64" stroke-width="0.9"/>
<rect x="731.2" y="52.4" width="2.3" height="10.6" stroke-width="0.7" fill="#323e52"/>
<line x1="734.4" x2="734.4" y1="55" y2="68" stroke-width="0.9"/>
<rect x="733.2" y="57" width="2.3" height="10.1" stroke-width="0.7" fill="#323e52"/>
<line x1="736.8" x2="736.8" y1="67.1" y2="76.1" stroke-width="0.9"/>
<rect x="735.6" y="68.7" width="2.3" height="6.6" stroke-width="0.7" fill="#323e52"/>
<line x1="739.2" x2="739.2" y1="69.5" y2="83.1" stroke-width="0.9"/>
<rect x="738.1" y="70.4" width="2.3" height="11.4" stroke-width="0.7" fill="#ffffff"/>
<line x1="742.2" x2="742.2" y1="57.3" y2="71.2" stroke-width="0.9"/>
<rect x="741.1" y="58.9" width="2.3" height="11.5" stroke-width="0.7" fill="#ffffff"/>
<line x1="748" x2="748" y1="69.5" y2="76.1" stroke-width="0.9"/>
<rect x="746.9" y="70.4" width="2.3" height="3.2" stroke-width="0.7" fill="#ffffff"/>
<line x1="750" x2="750" y1="69.5" y2="76.1" stroke-width="0.9"/>
<rect x="748.9" y="70.4" width="2.3" height="3.2" stroke-width="0.7" fill="#ffffff"/>
<line x1="752.3" x2="752.3" y1="47.5" y2="65.5" stroke-width="0.9"/>
<rect x="751.1" y="49.1" width="2.3" height="14.7" stroke-width="0.7" fill="#ffffff"/>
<line x1="754.8" x2="754.8" y1="47.5" y2="56.5" stroke-width="0.9"/>
<rect x="753.6" y="48.3" width="2.3" height="6.5" stroke-width="0.7" fill="#ffffff"/>
<line x1="758.8" x2="758.8" y1="35.2" y2="41.8" stroke-width="0.9"/>
<rect x="757.6" y="37" width="2.3" height="3.5" stroke-width="0.7" fill="#323e52"/>
<line x1="761" x2="761" y1="38.5" y2="42.6" stroke-width="0.9"/>
<rect x="759.9" y="39.2" width="2.3" height="0.9" stroke-width="0.7" fill="#323e52"/>
<line x1="764.5" x2="764.5" y1="44.2" y2="47.8" stroke-width="0.9"/>
<rect x="763.4" y="45" width="2.3" height="2" stroke-width="0.7" fill="#323e52"/>
<line x1="767" x2="767" y1="43" y2="46.7" stroke-width="0.9"/>
<rect x="765.9" y="43.9" width="2.3" height="2.3" stroke-width="0.7" fill="#ffffff"/>
<line x1="770.6" x2="770.6" y1="17.3" y2="32" stroke-width="0.9"/>
<rect x="769.5" y="21.3" width="2.3" height="9" stroke-width="0.7" fill="#323e52"/>
<line x1="773.2" x2="773.2" y1="18" y2="32" stroke-width="0.9"/>
<rect x="772.1" y="27" width="2.3" height="4" stroke-width="0.7" fill="#ffffff"/>
</g>
<polyline points="64.1,212.6 67.1,208.3 70.1,204.1 73.1,203.4 76.1,201.1 79.2,200.6 82.2,201.4 85.2,201.7 88.2,205 91.2,208.8 94.2,210.2 97.2,209.4 100.2,210 103.2,207.9 106.2,208 109.3,208.4 112.3,208.7 115.3,208.7 118.3,207.2 121.3,205.7 124.3,204.2 127.3,203.1 130.3,201.1 133.3,197.5 136.3,195.2 139.4,193.4 142.4,193.4 145.4,193.8 148.4,199.5 151.4,199.5 154.4,200.6 157.4,200.1 160.4,200.7 163.4,201.8 166.4,200 169.4,201.6 172.5,200.9 175.5,199.4 178.5,199.3 181.5,199 184.5,199.9 187.5,200 190.5,199.8 193.5,199.8 196.5,199.5 199.5,199.5 202.6,198.5 205.6,198.8 208.6,196.5 211.6,196.1 214.6,195.4 217.6,194.5 220.6,196.7 223.6,197 226.6,200.6 229.6,201.1 232.7,201.5 235.7,198.1 238.7,197 241.7,194.7 244.7,193.9 247.7,192.9 250.7,192.7 253.7,190.6 256.7,189.8 259.7,188.5 262.8,188.2 265.8,185.2 268.8,187.1 271.8,187 274.8,193.2 277.8,197.1 280.8,199.3 283.8,202.6 286.8,202.4 289.8,201.9 292.9,201.3 295.9,201 298.9,200.7 301.9,198.2 304.9,196.8 307.9,191.9 310.9,191.2 313.9,193.4 316.9,193.6 319.9,193.6 323,193.9 326,194.2 329,195.6 332,195.4 335,193.9 338,193.1 341,193.6 344,190.8 347,186.4 350,184.9 353.1,182.5 356.1,181.7 359.1,180.3 362.1,178.4 365.1,175.4 368.1,175.1 371.1,176 374.1,177.2 377.1,177.6 380.1,175.2 383.2,172.5 386.2,171.4 389.2,169.9 392.2,169.7 395.2,168 398.2,164.9 401.2,163.8 404.2,164.5 407.2,167.2 410.2,170.5 413.3,173.3 416.3,174.4 419.3,174.3 422.3,174.7 425.3,176.2 428.3,176.8 431.3,177 434.3,176.1 437.3,176.4 440.3,177.6 443.4,181.3 446.4,182.7 449.4,182.1 452.4,180.7 455.4,179.4 458.4,178.7 461.4,177.5 464.4,177.9 467.4,167.6 470.4,167.2 473.5,166.7 476.5,168.4 479.5,169.7 482.5,174.4 485.5,176.6 488.5,176.9 491.5,173.6 494.5,168.9 497.5,168.1 500.5,167.6 503.6,166.4 506.6,165.4 509.6,166.1 512.6,166.6 515.6,165.5 518.6,164.8 521.6,164.7 524.6,165.2 527.6,165.6 530.6,166.2 533.7,166.8 536.7,163.8 539.7,158.8 542.6,148.5 544.4,132 546.8,112.7 549.4,93.7 552,81.6 554.6,80.7 557.2,88.5 559.8,98.9 563.3,105.8 566.8,109.3 569.4,111.3 571.9,105.8 574.5,90.2 577.1,77.2 579.7,70.3 582.7,69.8 584.9,78.1 587.5,86.8 590.1,90.2 592.7,89.4 596.2,85 599.7,84.2 602.3,88.5 604.8,93.7 607.4,98.9 610,102.3 613.5,98.9 616.1,86.8 618.7,80.7 622.2,82.4 625.6,85.4 629.1,85.9 633.5,86.8 636.9,91.9 640.4,98.9 643.9,103.2 647.3,101.5 650.8,100.6 654.2,105.8 657.7,111.9 661.2,113.6 664.6,110.1 668.1,100.6 671.6,93.7 675,88.5 678.5,85.9 681.9,85.4 685.4,88.5 688.9,91.1 692.3,92.8 695.8,95.4 699.3,95.4 701.9,91.9 704.5,81.6 707.1,72.9 709.7,66 712.4,61.5 715.2,59.5 717.4,57.3 719.6,50.8 722.1,42.6 724.5,37.7 727,36.9 729.4,40.9 731.9,49.1 734.3,57.3 736.8,65.5 739.2,69.5 741.7,68.7 744.9,67.9 748.2,67.1 750.7,63.8 753.1,55.7 755.6,49.1 758,45 761.3,42.9 764.5,43.4 767,45 769.4,41.8 771.9,36 773.9,31.1" fill="none" stroke="#2b8bcf" stroke-width="1.65" stroke-linejoin="round" />
<polyline points="64.1,220 68.2,216.3 72.6,212.6 77,207.5 81.5,203.8 85.9,202.1 90.3,203.5 94.7,206 99.1,207.9 104.3,209.4 109.4,209.4 113.8,209 118.2,207.9 122.6,206.5 127,205.3 131.5,203.8 135.9,200.9 140.3,197.9 144.7,196.5 149.1,196.2 153.5,196.8 157.9,198.2 162.4,199.9 168.2,200.6 173,200.6 178.8,199.1 187.6,199.4 196.5,199.9 205.3,199.1 214.1,197.6 221.5,196.9 228.8,198.2 236.2,198.7 243.5,197.2 249.4,195.3 255.3,193.2 261.2,190.6 267.1,188.4 272.9,187.6 277.4,189.9 281.8,192.8 286.2,195.3 290,196.5 295,198 300,199.8 301.5,201.1 304.6,199.7 307.7,198.6 310.8,197.3 313.9,196.1 317,195.3 320.1,194.4 323.2,193.5 326.3,193.8 329.4,194.2 332.5,194 335.6,194 338.7,194.2 341.8,193.7 344.9,192.8 348,190.9 351.1,189.3 354.2,187.7 357.3,186.2 360.4,184 363.5,181.5 366.6,179.9 369.7,179 372.8,178.3 375.9,177.9 379,176.8 382.1,175.5 385.2,174.7 388.3,174.1 391.4,173.4 394.5,171.5 397.6,169.6 400.7,168.3 403.8,167 406.9,167.1 410,167.6 413.1,168.1 416.2,168.7 419.3,169.3 420.4,172.2 425.3,172.9 434.1,174.4 440,176.6 445.9,179.6 451.8,180 457.6,179.6 463.5,178.1 467.9,175.1 472.4,172.9 478.2,171.2 484.1,171.2 490,172.2 495.9,172.2 501.8,170.7 507.4,169.1 514.7,166.9 522.1,166.2 529.4,166.2 536.8,165.4 541.9,161.8 544.9,154.4 547.8,144.1 550.7,133.8 552.6,126 554.6,117.9 557.2,111 560.7,104.9 564.2,99.7 567.6,97.1 571.9,98 575.4,95.4 579.7,91.9 584.1,88.5 588.4,84.2 592.7,81.9 597.1,81.6 600.5,84.2 604,88.5 608.3,91.1 613.5,91.6 618.7,90.2 623.9,88.5 629.1,86.4 634.3,85.7 638.7,89.4 643,92.8 647.3,95.4 651.6,98 656,102.3 660.3,106.7 664.6,106.7 669,104.9 673.3,102.3 677.6,98 681.9,93.7 686.3,91.1 690.6,89.4 694.9,89.4 699.3,91.1 703.6,90.2 707.9,85 711.6,79.5 714.8,73.3 718,65.5 721.2,57.3 724.5,52.4 728.6,49.9 732.7,51.1 736.8,53.2 740.8,54.8 743.3,57.3 746.6,62.2 749.8,64.6 753.1,62.2 757.2,57.3 761.3,53.2 765.4,49.9 768.6,46.7 771.9,41.8 773.2,40.1" fill="none" stroke="#f0a340" stroke-width="1.6" stroke-linejoin="round" />
<polyline points="64.1,215.3 69.7,215.9 77,214.9 84.4,213.8 91.8,212.6 99.1,211.2 106.5,210 113.8,209 121.2,207.5 128.5,206.5 135.9,205.3 143.2,204.3 150.6,203.1 157.9,202.1 165.3,201.2 172,200.6 178.8,199.9 187.6,199.9 199.4,199.9 211.2,199.4 222.9,198.4 234.7,198.2 243.5,197.6 252.4,196.5 261.2,195 270,193.5 275.9,193.2 281.8,194.3 290,195.3 301.2,194.9 301.5,195.8 304.6,195.8 307.7,195.6 310.8,195.6 313.9,195.6 317,195.8 320.1,195.8 323.2,196.1 326.3,196.5 329.4,196.9 332.5,197.1 335.6,197 338.7,196.7 341.8,196.2 344.9,195.4 348,194.3 351.1,193.3 354.2,192.4 357.3,191.6 360.4,190.3 363.5,188.9 366.6,188.2 369.7,187.5 372.8,186.8 375.9,186 379,185.1 382.1,184.1 385.2,182.9 388.3,181.7 391.4,180.6 394.5,178.9 397.6,177.5 400.7,176 403.8,174.7 406.9,173.7 410,173.2 413.1,172.9 416.2,172.7 419.3,172.6 420.4,171.2 428.2,171.5 437.1,171.5 442.9,172.6 448.8,174.1 454.7,175.6 460.6,176.3 466.5,176.3 472.4,175.9 478.2,175.1 485.6,174.7 492.9,174.1 500.3,173.2 507.4,171.3 514.7,169.6 522.1,168.4 529.4,167.6 536.8,167.2 542.6,165 547.1,158.8 551.5,151.5 556.6,145.6 561.8,141.2 567.6,136.8 572.8,130.9 578.9,123.1 584.1,115.3 589.3,107.5 594.5,99.7 599.7,93.7 604.8,90.6 610,91.6 617,91.1 623.9,89.4 630.8,86.8 635.2,86.4 640.4,89.4 645.6,91.1 650.8,91.9 656,94 661.2,96.3 666.4,96.8 673.3,95.8 680.2,95.9 687.1,96.6 694.1,97.1 701,97.1 706.2,94.5 711.4,90.2 716.6,85.9 721.2,81.8 726.1,75.3 731,72 735.9,70.4 740.8,69.5 745.8,67.9 750.7,64.6 755.6,60.6 760.5,57.3 765.4,54.8 769.4,53.2 772.7,51.6" fill="none" stroke="#5c2d14" stroke-width="1.5" stroke-linejoin="round" />
<polyline points="301.5,195.8 304.6,195.8 307.7,195.6 310.8,195.6 313.9,195.6 317,195.8 320.1,195.8 323.2,196.1 326.3,196.5 329.4,196.9 332.5,197.1 335.6,197 338.7,196.7 341.8,196.2 344.9,195.4 348,194.3 351.1,193.3 354.2,192.4 357.3,191.6 360.4,190.3 363.5,188.9 366.6,188.2 369.7,187.5 372.8,186.8 375.9,186 379,185.1 382.1,184.1 385.2,182.9 388.3,181.7 391.4,180.6 394.5,178.9 397.6,177.5 400.7,176 403.8,174.7 406.9,173.7 410,173.2 413.1,172.9 416.2,172.7 419.3,172.6" fill="none" stroke="#5c2d14" stroke-width="6.2" stroke-linejoin="round" stroke-linecap="butt"/>
<rect x="301.5" y="156.5" width="119" height="51.8" fill="none" stroke="#2e3540" stroke-width="2.5"/>
<text x="399.6" y="184.1" font-size="3.5" fill="#ffffff" fill-opacity="0.95" textLength="36.6" lengthAdjust="spacing">【烘云托月】买入点</text>
<path d="M230,71.6 L365.6,71.6 L365.6,64.2 L384,83.4 L365.6,101.6 L365.6,95.3 L230,95.3 Z" fill="#f0a340" stroke="#d79a55" stroke-width="0.7"/>
<text y="88.9" font-size="15.4" fill="#fdf1da"><tspan x="232.3">【</tspan><tspan x="249.2">烘云托月</tspan><tspan x="314.2">】</tspan><tspan x="325.6" letter-spacing="-0.55">买入点</tspan></text>
<path d="M301.3,99.3 L304.6,99.3 L304.6,139.8 L307.7,139.8 L303,151.4 L298.2,139.8 L301.3,139.8 Z" fill="#f0a340" stroke="#b98c5c" stroke-width="0.6"/>
<line x1="36.6" x2="57.4" y1="20" y2="20" stroke="#2b8bcf" stroke-width="1.7"/>
<text x="65.2" y="23.4" font-size="9.7" fill="#262626">3 ma</text>
<line x1="36.6" x2="57.4" y1="34" y2="34" stroke="#f0a340" stroke-width="1.7"/>
<text x="65.2" y="37.4" font-size="9.7" fill="#262626">8 ma</text>
<line x1="36.6" x2="57.4" y1="48" y2="48" stroke="#5c2d14" stroke-width="1.7"/>
<text x="65.2" y="51.4" font-size="9.7" fill="#262626">21 ma</text>
<circle cx="787.6" cy="15.9" r="11.2" fill="#2b8bcf" stroke="#4d145c" stroke-width="1.3"/>
<text x="787.6" y="18.5" font-size="13.3" fill="#fbf3e4" text-anchor="middle">3</text>
<circle cx="787.6" cy="41.4" r="11.0" fill="#f0a340" stroke="#4d145c" stroke-width="1.3"/>
<text x="787.6" y="45.7" font-size="13.3" fill="#fbf3e4" text-anchor="middle">8</text>
<circle cx="787.6" cy="66.6" r="13.2" fill="#5c2d14" stroke="#4d145c" stroke-width="1.3"/>
<text x="787.6" y="70.9" font-size="13.3" fill="#fbf3e4" text-anchor="middle">21</text>
<text x="20.7" y="191.3" font-size="9.5" fill="#262626" text-anchor="end">8</text>
<text x="20.7" y="144.6" font-size="9.5" fill="#262626" text-anchor="end">9</text>
<text x="20.7" y="98" font-size="9.5" fill="#262626" text-anchor="end">10</text>
<text x="20.7" y="51.3" font-size="9.5" fill="#262626" text-anchor="end">11</text>
</g>
<g id="bottom-axes">
<g stroke="#cccccc" stroke-width="1" fill="none" >
<line x1="28.5" x2="809.5" y1="494.5" y2="494.5"/>
<line x1="28.5" x2="809.5" y1="469.5" y2="469.5"/>
<line x1="28.5" x2="809.5" y1="443.5" y2="443.5"/>
<line x1="28.5" x2="809.5" y1="418.5" y2="418.5"/>
<line x1="28.5" x2="809.5" y1="393.5" y2="393.5"/>
<line x1="28.5" x2="809.5" y1="367.5" y2="367.5"/>
<line x1="28.5" x2="809.5" y1="342.5" y2="342.5"/>
<line x1="28.5" x2="809.5" y1="316.5" y2="316.5"/>
<line x1="28.5" x2="809.5" y1="291.5" y2="291.5"/>
<line x1="89.5" x2="89.5" y1="274.5" y2="497.5"/>
<line x1="216.5" x2="216.5" y1="274.5" y2="497.5"/>
<line x1="343.5" x2="343.5" y1="274.5" y2="497.5"/>
<line x1="470.5" x2="470.5" y1="274.5" y2="497.5"/>
<line x1="597.5" x2="597.5" y1="274.5" y2="497.5"/>
<line x1="724.5" x2="724.5" y1="274.5" y2="497.5"/>
<rect x="28.5" y="274.5" width="781.0" height="223"/>
</g>
<polyline points="292.7,475.8 305.4,459.1 318.1,442.5 330.8,443.8 343.5,445.4 356.2,446.8 368.9,445 381.6,448.9 394.3,450.1 407,457.2 419.7,452.3 432.4,448.5 445.1,443.4 457.8,438.9 470.5,425.2 483.2,402.7 495.9,386 508.6,381.7 521.3,384.4 534,371.8 546.7,354.7 559.4,345.3 572.1,351.8 584.8,357.7 597.5,359 610.2,351.4 622.9,341 635.6,325.9 648.3,317.3 661,315.8 673.7,306.6 686.4,291.9 699.1,284.4 711.8,285.4 724.5,304.6 737.2,317.4 749.9,331.1 762.6,340.9 775.3,342.1" fill="none" stroke="#2b8bcf" stroke-width="1.5" stroke-linejoin="round" />
<polyline points="292.7,486.8 305.4,479.3 318.1,473.2 330.8,466.4 343.5,459.7 356.2,455.2 368.9,450.5 381.6,445.4 394.3,447 407,449.3 419.7,448.5 432.4,448.5 445.1,449.5 457.8,446.4 470.5,441.9 483.2,431.5 495.9,422.8 508.6,413.8 521.3,406 534,393.8 546.7,380.1 559.4,371.4 572.1,366.5 584.8,363.1 597.5,361 610.2,354.7 622.9,347.5 635.6,343.5 648.3,340.2 661,336.4 673.7,325.8 686.4,315.8 699.1,308.5 711.8,301.7 724.5,302.1 737.2,304.6 749.9,307.2 762.6,310.8 775.3,313.8" fill="none" stroke="#f2ab4c" stroke-width="1.5" stroke-linejoin="round" />
<polyline points="292.7,458.3 305.4,457.8 318.1,457.2 330.8,457 343.5,457 356.2,457.8 368.9,458.3 381.6,459.9 394.3,462.1 407,464 419.7,465.4 432.4,464.8 445.1,463.2 457.8,460.5 470.5,455.8 483.2,449.7 495.9,444.4 508.6,439.5 521.3,435 534,428.3 546.7,420.8 559.4,416.8 572.1,412.9 584.8,408.9 597.5,405 610.2,400.1 622.9,394.2 635.6,387.9 648.3,381.5 661,375.3 673.7,366.3 686.4,358.3 699.1,350.3 711.8,343.1 724.5,337.9 737.2,335.4 749.9,333.4 762.6,332.3 775.3,331.8" fill="none" stroke="#5c2d14" stroke-width="6.0" stroke-linejoin="round" stroke-linecap="round"/>
<text x="20" y="496.9" font-size="9.7" fill="#262626" text-anchor="end" textLength="11.4" lengthAdjust="spacingAndGlyphs">7.7</text>
<text x="20" y="471.5" font-size="9.7" fill="#262626" text-anchor="end" textLength="11.4" lengthAdjust="spacingAndGlyphs">7.8</text>
<text x="20" y="446.1" font-size="9.7" fill="#262626" text-anchor="end" textLength="11.4" lengthAdjust="spacingAndGlyphs">7.9</text>
<text x="20" y="420.8" font-size="9.7" fill="#262626" text-anchor="end" textLength="11.4" lengthAdjust="spacingAndGlyphs">8.0</text>
<text x="20" y="395.4" font-size="9.7" fill="#262626" text-anchor="end" textLength="11.4" lengthAdjust="spacingAndGlyphs">8.1</text>
<text x="20" y="370" font-size="9.7" fill="#262626" text-anchor="end" textLength="11.4" lengthAdjust="spacingAndGlyphs">8.2</text>
<text x="20" y="344.6" font-size="9.7" fill="#262626" text-anchor="end" textLength="11.4" lengthAdjust="spacingAndGlyphs">8.3</text>
<text x="20" y="319.3" font-size="9.7" fill="#262626" text-anchor="end" textLength="11.4" lengthAdjust="spacingAndGlyphs">8.4</text>
<text x="20" y="293.9" font-size="9.7" fill="#262626" text-anchor="end" textLength="11.4" lengthAdjust="spacingAndGlyphs">8.5</text>
<text x="88.7" y="510.8" font-size="9.7" fill="#262626" text-anchor="end" textLength="79.6" lengthAdjust="spacing">2022-05-23 09:00</text>
<text x="215.7" y="510.8" font-size="9.7" fill="#262626" text-anchor="end" textLength="79.6" lengthAdjust="spacing">2022-05-25 09:00</text>
<text x="342.7" y="510.8" font-size="9.7" fill="#262626" text-anchor="end" textLength="79.6" lengthAdjust="spacing">2022-05-27 09:00</text>
<text x="469.7" y="510.8" font-size="9.7" fill="#262626" text-anchor="end" textLength="79.6" lengthAdjust="spacing">2022-05-31 09:00</text>
<text x="596.7" y="510.8" font-size="9.7" fill="#262626" text-anchor="end" textLength="79.6" lengthAdjust="spacing">2022-06-02 09:00</text>
<text x="723.7" y="510.8" font-size="9.7" fill="#262626" text-anchor="end" textLength="79.6" lengthAdjust="spacing">2022-06-07 09:00</text>
</g>
<g id="dog">
<path d="M114.5,402 C106,404.5 96.5,401 92.6,393 C90.3,388.5 88.6,385 88.6,381.6" fill="none" stroke="#d9b98a" stroke-width="6.4" stroke-linecap="round"/>
<path d="M114.5,402 C106,404.5 96.5,401 92.6,393 C90.3,388.5 88.6,385 88.6,381.6" fill="none" stroke="#f8e4c0" stroke-width="5.2" stroke-linecap="round"/>
<path d="M107.1,412.4 L122.3,417.7 L121.6,436 L109.6,431 Z" fill="#e2462b"/>
<path d="M109.3,427.8 L121.6,431.6 L121.4,437 L110,433.5 Z" fill="#1d1412"/>
<path d="M144.5,420.8 L162.9,413.4 L173.5,441 L160.8,440.5 Z" fill="#e2462b"/>
<path d="M157.8,431.6 L169,429 L173.5,441 L160.8,440.5 Z" fill="#1d1412"/>
<path d="M123.3,421 C126,415.5 136,415.5 143.5,421.5 C150,427 157,436 161.5,441 L121,441 C121,433 121.5,426 123.3,421 Z" fill="#f4e7da"/>
<path d="M121.5,433 C132,436 148,437 158,436.5 L161.5,441 L121,441 Z" fill="#e8d3cd"/>
<path d="M123,396 L154,398.5 L169.5,413.5 L159,413.8 L151,419 L142.6,424.6 L133.6,420 L125,420.2 L116.6,415.8 L100.6,413.3 L111,403 Z" fill="#f8ecdb"/>
<path d="M123.3,395.5 L153.6,398.2 L166.6,411.2 L158.2,410.8 L149.8,415.4 L142.4,420.6 L133.9,416.2 L125.5,416.4 L117,412.2 L103.6,410.6 L111.7,402.9 Z" fill="#f08a2e" stroke="#a8551a" stroke-width="0.5"/>
<ellipse cx="120.2" cy="402.9" rx="2.07" ry="1.62" fill="#1a1210"/>
<ellipse cx="137.1" cy="406" rx="3.105" ry="2.43" fill="#1a1210"/>
<ellipse cx="154" cy="403.6" rx="2.415" ry="1.8900000000000001" fill="#1a1210"/>
<ellipse cx="129" cy="400.3" rx="1.4949999999999999" ry="1.1700000000000002" fill="#1a1210"/>
<ellipse cx="149.6" cy="410.4" rx="1.8399999999999999" ry="1.4400000000000002" fill="#1a1210"/>
<ellipse cx="124.8" cy="410.2" rx="1.6099999999999999" ry="1.26" fill="#1a1210"/>
<ellipse cx="143.6" cy="401" rx="1.38" ry="1.08" fill="#1a1210"/>
<ellipse cx="160" cy="408.6" rx="1.38" ry="1.08" fill="#1a1210"/>
<ellipse cx="112" cy="407.5" rx="1.265" ry="0.9900000000000001" fill="#1a1210"/>
<path d="M107.6,364.6 C103,366.4 99,371 96.8,375.4 C97.4,378.6 99.4,381.2 101.2,382.2 L113.6,390.4 L121.6,394.4 L153.6,397.6 L161.6,397.4 L180.8,380.2 C180.8,376.4 178.4,372.6 171.4,369 L168.8,364.8 Z" fill="#f6ba39" stroke="#b07f1e" stroke-width="0.6"/>
<path d="M114,374.5 L122.1,373.9 L121.4,384 L116,386 Z" fill="#6db6e6"/>
<path d="M158.5,377.2 L165.9,379.9 L163.9,390.7 L157.1,388.7 Z" fill="#6db6e6"/>
<path d="M134.9,373.9 L146.6,393.2" stroke="#1d1412" stroke-width="4.2" fill="none"/>
<path d="M114,386.7 L119.4,389 L118,392.4 L113,390 Z" fill="#1d1412"/>
<path d="M158.5,391.4 L164.5,393.5 L163,397.5 L157.5,395.5 Z" fill="#1d1412"/>
<path d="M123,394.2 L153.2,397.2" stroke="#ece2d3" stroke-width="3.4" fill="none"/>
<path d="M126,395.6 L150,398" stroke="#a9a49a" stroke-width="0.7" stroke-dasharray="2 1.2" fill="none"/>
<ellipse cx="118.2" cy="394.8" rx="3.8" ry="4.4" fill="#f8e4c0"/>
<ellipse cx="156.4" cy="397" rx="3.9" ry="5.3" fill="#f8e4c0"/>
<path d="M106.8,360.6 L108.6,364.4 C113,366.8 118,368.6 122.1,369.9 C126,371 130,371.8 135,372.2 L150,372.6 C157,372 164,370.6 169.9,368.8 L170.2,363.6 C160,359 118,357 106.8,360.6 Z" fill="#5aace0" stroke="#3c7fb3" stroke-width="0.5"/>
<path d="M129.6,369.4 C133,369.2 137,370 140.4,371.4 C138,376 133,380 128.2,381.6 C127.4,377.6 128,373 129.6,369.4 Z" fill="#5aace0"/>
<path d="M145.6,370.6 C149,369.8 153,370.4 156,371.4 C156.4,376 154.6,380.6 151.8,383.4 C148.6,379.6 146.4,375 145.6,370.6 Z" fill="#5aace0"/>
<ellipse cx="143" cy="370.6" rx="3.6" ry="2.6" fill="#4f9fd6"/>
<path d="M85.3,326.5 C86,312 94.5,299.5 105.4,294.6 C115,288 126,283.6 137.1,283 C148,283 158,286 164.6,290.4 C174,297 182,307 185.6,318.6 L176,322 L118,318 C110,322 102,328 96.6,332.6 C92,334 87.5,331.5 85.3,326.5 Z" fill="#f6ba39" stroke="#b8851f" stroke-width="0.6"/>
<path d="M91,314 L95.6,330.5 M95.4,307.6 L99.6,322" stroke="#d89524" stroke-width="0.7" stroke-dasharray="1.6 1.3" fill="none"/>
<path d="M116.6,318 C116.6,301 133,295.6 149,295.6 C166,295.6 181.8,302 181.8,322 C181.8,338 180.4,349 176.2,355.4 C170.4,362.6 160,367.6 144.2,367.6 C131,367.6 118,362.4 111,355.6 C114,345 116.6,332 116.6,318 Z" fill="#f8e4c0" stroke="#cdb48a" stroke-width="0.6"/>
<path d="M111.2,304.6 C119.5,297.6 131.5,293.4 143,292.4 C156,291.8 168,297 175.2,304 C180,309 183,313 184.9,317.2" fill="none" stroke="#b9b4ab" stroke-width="3.3"/>
<path d="M156.2,294.6 C152.4,288 147.4,280.4 144.6,273.2" fill="none" stroke="#9f9a92" stroke-width="5.0" stroke-linecap="round"/>
<path d="M160.6,295 C165,288.4 168.6,281.4 169.9,275.2" fill="none" stroke="#9f9a92" stroke-width="5.0" stroke-linecap="round"/>
<path d="M156.2,294.6 C152.4,288 147.4,280.4 144.6,273.2" fill="none" stroke="#b9b4ab" stroke-width="4.0" stroke-linecap="round"/>
<path d="M160.6,295 C165,288.4 168.6,281.4 169.9,275.2" fill="none" stroke="#b9b4ab" stroke-width="4.0" stroke-linecap="round"/>
<ellipse cx="158.4" cy="294.2" rx="3.6" ry="2.6" fill="#b9b4ab" stroke="#9f9a92" stroke-width="0.5"/>
<path d="M117.6,305.6 C108,308 96,318.4 92.7,330 C90,342 93.6,351.6 99.6,354 C106,356 112,352.4 115.2,345.4 C117.6,338 116.4,325.6 119.6,314.4 Z" fill="#a7572d" stroke="#6f3518" stroke-width="0.6"/>
<path d="M176.2,313 C184,316.4 189,326 189.6,336 C190,346 187,353.6 182.4,354.4 C178,354 175.6,348 176.6,340 C177.6,330 179,321.6 176.2,313 Z" fill="#a7572d" stroke="#6f3518" stroke-width="0.6"/>
<ellipse cx="150.4" cy="350.2" rx="6.6" ry="5.4" fill="#e3d0ae"/>
<ellipse cx="162.4" cy="351" rx="4.8" ry="4" fill="#efdcba"/>
<path d="M126.5,346 C129.6,351.6 133,354.4 136.4,355.4 C140,356.8 143.6,357.2 146.3,357 C150,356.6 153.2,355.2 155.3,353" fill="none" stroke="#5a3418" stroke-width="0.9"/>
<path d="M157.4,346.6 C156.8,349.6 156.4,351.6 155.3,353 C157,355 159.6,355.8 161.8,355.4 C164,355 166,354 167.3,352.4" fill="none" stroke="#5a3418" stroke-width="0.8"/>
<ellipse cx="132.9" cy="327.4" rx="5.3" ry="7.1" fill="#120c0c"/>
<ellipse cx="167" cy="328.4" rx="4.3" ry="6.4" fill="#120c0c"/>
<circle cx="134.6" cy="324.4" r="1.5" fill="#ffffff"/>
<circle cx="168.4" cy="325.6" r="1.3" fill="#ffffff"/>
<ellipse cx="157.8" cy="341.4" rx="9" ry="5.8" fill="#120c0c"/>
<ellipse cx="160.6" cy="339" rx="2.6" ry="1.2" fill="#ffffff" fill-opacity="0.85"/>
<path d="M127,316.5 C129.6,314.4 133,313.8 136,314.8" fill="none" stroke="#e6cfa6" stroke-width="0.8"/>
<g fill="#322d2a">
<circle cx="85" cy="437.7" r="21.2"/>
<circle cx="61" cy="456.7" r="19.5"/>
<circle cx="190" cy="439.2" r="21.5"/>
<circle cx="221.3" cy="456.2" r="21.5"/>
<circle cx="140" cy="470.2" r="26"/>
<circle cx="112" cy="466.2" r="24"/>
<circle cx="168" cy="466.2" r="24"/>
<circle cx="93" cy="474.7" r="20.5"/>
<circle cx="141" cy="479.2" r="21"/>
<circle cx="186" cy="475.2" r="21"/>
<circle cx="214" cy="468.2" r="16"/>
<circle cx="70" cy="468.2" r="14"/>
<circle cx="126" cy="459.2" r="15.5"/>
<circle cx="155" cy="459.7" r="15.5"/>
</g>
<g fill="#4a4d56">
<circle cx="85" cy="434.5" r="21.2"/>
<circle cx="61" cy="453.5" r="19.5"/>
<circle cx="190" cy="436" r="21.5"/>
<circle cx="221.3" cy="453" r="21.5"/>
<circle cx="140" cy="464.8" r="25.4"/>
<circle cx="112" cy="460.8" r="23.4"/>
<circle cx="168" cy="460.8" r="23.4"/>
<circle cx="93" cy="469.3" r="19.9"/>
<circle cx="141" cy="473.8" r="20.4"/>
<circle cx="186" cy="469.8" r="20.4"/>
<circle cx="214" cy="462.8" r="15.4"/>
<circle cx="70" cy="462.8" r="13.4"/>
<circle cx="126" cy="456" r="15.5"/>
<circle cx="155" cy="456.5" r="15.5"/>
</g>
<g fill="#565a64" fill-opacity="0.55">
<circle cx="82" cy="430" r="14"/>
<circle cx="190" cy="431" r="15"/>
<circle cx="140" cy="462" r="22"/>
<circle cx="60" cy="450" r="11"/>
<circle cx="222" cy="450" r="13"/>
</g>
<g fill="none" stroke="#363943" stroke-width="0.9">
<path d="M100,449 C108,441.4 120,440 128,444 M152,444 C160,439.6 170,441 176,447.6"/>
<path d="M96,474 C104,480 116,481 124,476"/>
<path d="M150,480 C160,484 172,482.6 180,476"/>
<path d="M62,447 C70,441 80,441.4 88,447"/>
<path d="M196,446 C206,440.6 218,442 226,449"/>
</g>
<g fill="#8d8a86" fill-opacity="0.7">
<circle cx="66" cy="476.5" r="0.55"/>
<circle cx="71" cy="480.6" r="0.55"/>
<circle cx="78" cy="485.4" r="0.55"/>
<circle cx="84" cy="488.6" r="0.55"/>
<circle cx="93" cy="491.6" r="0.55"/>
<circle cx="102" cy="492.8" r="0.55"/>
<circle cx="112" cy="492.2" r="0.55"/>
<circle cx="123" cy="494" r="0.55"/>
<circle cx="133" cy="496.6" r="0.55"/>
<circle cx="146" cy="498" r="0.55"/>
<circle cx="158" cy="496.8" r="0.55"/>
<circle cx="168" cy="493.6" r="0.55"/>
<circle cx="178" cy="493.2" r="0.55"/>
<circle cx="190" cy="493.6" r="0.55"/>
<circle cx="200" cy="490.4" r="0.55"/>
<circle cx="208" cy="485.6" r="0.55"/>
<circle cx="216" cy="479.6" r="0.55"/>
<circle cx="226" cy="475.4" r="0.55"/>
<circle cx="234" cy="470.2" r="0.55"/>
<circle cx="52" cy="469.4" r="0.55"/>
<circle cx="47" cy="462.6" r="0.55"/>
<circle cx="239" cy="463" r="0.55"/>
</g>
<g fill="none" stroke="#e9e2d6" stroke-width="0.8" stroke-linecap="round">
<path d="M90,439.6 C96,437.6 103,438.6 108,442"/>
<path d="M97,435.4 C103,435.6 107,438 110,441.4"/>
<path d="M93,449 C97,444.6 103,442.6 110,443.4"/>
<path d="M176,438 C171.6,440 168,444 166.6,449"/>
<path d="M182,441.6 C188,443 192,447 193.6,452"/>
<path d="M170,436.6 C166,438 162.6,441 161,444.6"/>
<path d="M128,447 C134,444.6 140,444.8 146,447.4"/>
</g>
</g>
<g id="moon">
<defs>
<radialGradient id="mg" cx="0.6" cy="0.4" r="0.7"><stop offset="0" stop-color="#fef2c4"/><stop offset="0.7" stop-color="#fce3a0"/><stop offset="1" stop-color="#f8d486"/></radialGradient>
<radialGradient id="sg" cx="0.42" cy="0.32" r="0.75"><stop offset="0" stop-color="#fde694"/><stop offset="0.55" stop-color="#fbd25e"/><stop offset="1" stop-color="#f4ba3e"/></radialGradient>
</defs>
<circle cx="783.7" cy="306.8" r="26.1" fill="url(#mg)" stroke="#cdbf9c" stroke-width="0.5"/>
<g fill="#f5b638" fill-opacity="0.62">
<ellipse cx="777" cy="297" rx="5.5" ry="4"/>
<ellipse cx="787" cy="291.5" rx="4" ry="3"/>
<ellipse cx="794" cy="299" rx="5" ry="4.5"/>
<ellipse cx="771" cy="306" rx="3.6" ry="5"/>
<ellipse cx="783" cy="302.5" rx="4.5" ry="3"/>
<ellipse cx="798" cy="290.5" rx="2.6" ry="2.2"/>
<ellipse cx="766.6" cy="316" rx="2.6" ry="3.4"/>
<ellipse cx="790" cy="285.6" rx="2.4" ry="1.6"/>
</g>
<circle cx="806" cy="327.5" r="11.5" fill="url(#sg)"/>
<circle cx="761.6" cy="327.6" r="8.6" fill="url(#sg)"/>
<circle cx="784" cy="319.2" r="16.2" fill="url(#sg)"/>
<circle cx="793.6" cy="331" r="9.4" fill="url(#sg)"/>
<circle cx="775.4" cy="328" r="11.6" fill="url(#sg)"/>
</g>
<line x1="36.6" x2="57.4" y1="286.8" y2="286.8" stroke="#2b8bcf" stroke-width="1.3" stroke-linecap="butt"/>
<text x="65.6" y="290.2" font-size="9.7" fill="#262626" textLength="20.5" lengthAdjust="spacingAndGlyphs">MA3</text>
<line x1="36.6" x2="57.4" y1="300.9" y2="300.9" stroke="#f0a340" stroke-width="1.3" stroke-linecap="butt"/>
<text x="65.6" y="304.2" font-size="9.7" fill="#262626" textLength="20.5" lengthAdjust="spacingAndGlyphs">MA8</text>
<line x1="37.6" x2="56.4" y1="314.9" y2="314.9" stroke="#5c2d14" stroke-width="6.0" stroke-linecap="round"/>
<text x="65.6" y="318.3" font-size="9.7" fill="#262626" textLength="26" lengthAdjust="spacingAndGlyphs">MA21</text>
<g id="big-label">
<rect x="149.7" y="236.2" width="538.4" height="27.4" rx="4.5" ry="4.5" fill="#f0a340" stroke="#561360" stroke-width="1.9"/>
<path d="M451.9,264.9 L514.9,278.8 L515.4,276.2 L525.8,282.6 L513.7,284 L514.3,281.4 L451.3,267.5 Z" fill="#f0a340" stroke="#a08a86" stroke-width="0.6"/>
</g>
</svg>
<div id="note"><span style="left:155.3px;top:241.92px;font-size:17.7px;transform:scaleX(0.942);transform-origin:0 0;">2022</span><span style="left:194.6px;top:242.76px;font-size:16.7px;transform:scaleX(2.15);transform-origin:50% 0;">-</span><span style="left:202.2px;top:241.92px;font-size:17.7px;transform:scaleX(0.942);transform-origin:0 0;">06</span><span style="left:223.8px;top:242.76px;font-size:16.7px;transform:scaleX(2.2);transform-origin:50% 0;">-</span><span style="left:231.5px;top:241.92px;font-size:17.7px;transform:scaleX(0.942);transform-origin:0 0;">01 </span><span style="left:258.3px;top:241.92px;font-size:17.7px;transform:scaleX(0.994);transform-origin:0 0;">09:00:00 </span><span style="left:330.9px;top:241.92px;font-size:17.7px;transform:scaleX(0.942);transform-origin:0 0;">3</span><span style="left:340.3px;top:243.10px;font-size:16.3px;">小时</span><span style="left:373.5px;top:241.92px;font-size:17.7px;transform:scaleX(0.942);transform-origin:0 0;">,8</span><span style="left:386.7px;top:243.10px;font-size:16.3px;">小时</span><span style="left:419.8px;top:241.92px;font-size:17.7px;transform:scaleX(0.942);transform-origin:0 0;">,21</span><span style="left:441.8px;top:243.10px;font-size:16.3px;">小时均线形成</span><span style="left:535.8px;top:243.10px;font-size:16.3px;">【</span><span style="left:553.7px;top:243.10px;font-size:16.3px;letter-spacing:0.3px;">烘云托月</span><span style="left:623.8px;top:243.10px;font-size:16.3px;">】</span><span style="left:634.8px;top:243.10px;font-size:16.3px;letter-spacing:0.47px;">买入点</span></div>
</div>
</body>
</html>
